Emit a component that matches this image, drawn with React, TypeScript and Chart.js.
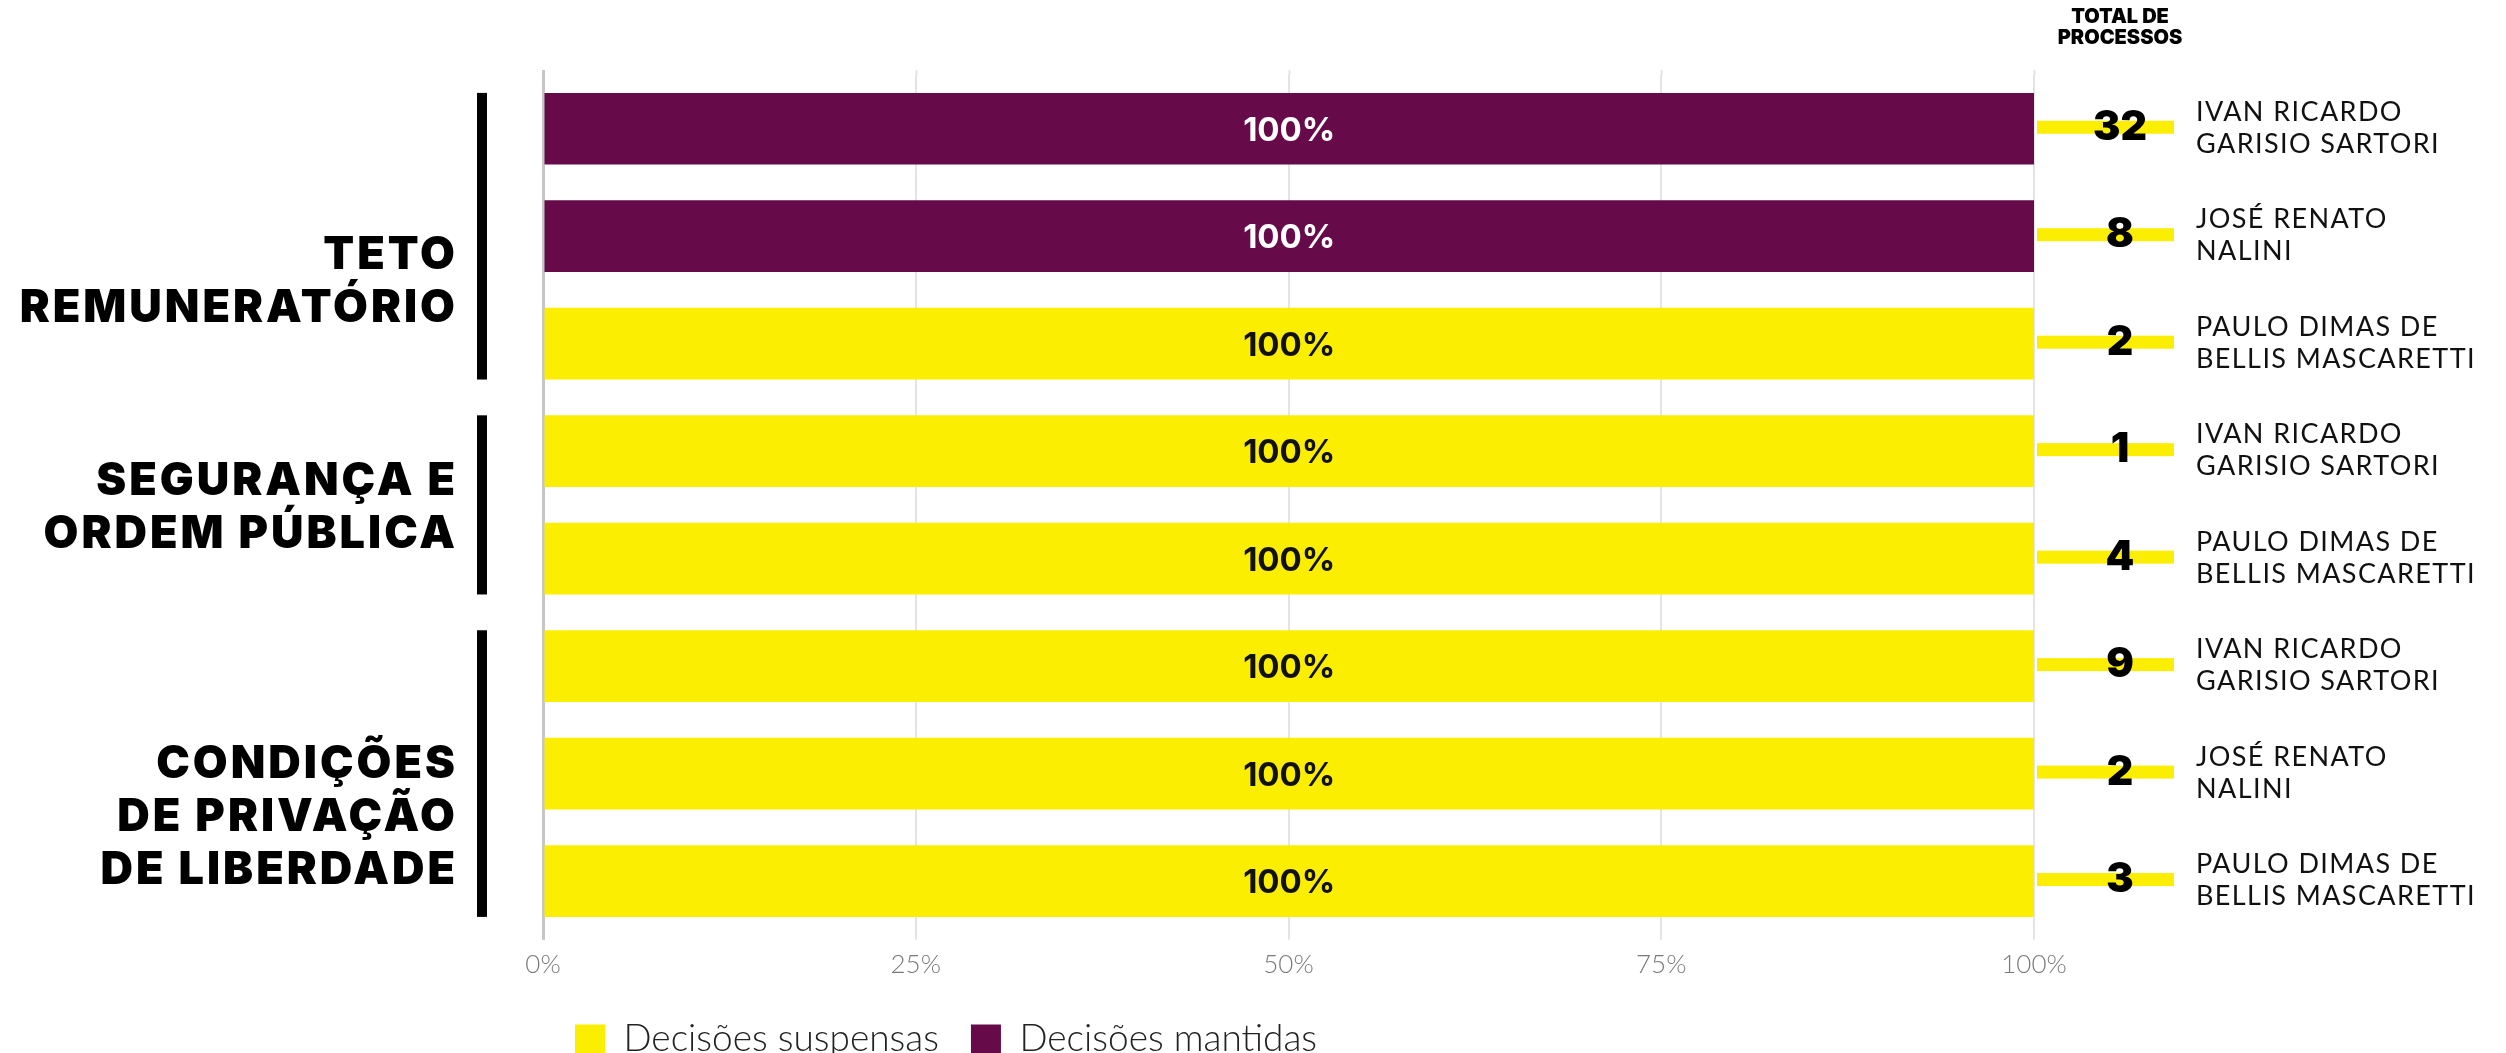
import React, { useEffect, useRef } from 'react';
import { Chart, registerables } from 'chart.js';

Chart.register(...registerables);

// ---------- data ----------
const JUDGES: string[][] = [
  ['IVAN RICARDO', 'GARISIO SARTORI'],
  ['JOSÉ RENATO', 'NALINI'],
  ['PAULO DIMAS DE', 'BELLIS MASCARETTI'],
  ['IVAN RICARDO', 'GARISIO SARTORI'],
  ['PAULO DIMAS DE', 'BELLIS MASCARETTI'],
  ['IVAN RICARDO', 'GARISIO SARTORI'],
  ['JOSÉ RENATO', 'NALINI'],
  ['PAULO DIMAS DE', 'BELLIS MASCARETTI'],
];
const TOTAL_PROCESSOS = [32, 8, 2, 1, 4, 9, 2, 3];
const DECISOES_SUSPENSAS = [0, 0, 100, 100, 100, 100, 100, 100];
const DECISOES_MANTIDAS = [100, 100, 0, 0, 0, 0, 0, 0];
const SERIES_NAMES = ['Decisões suspensas', 'Decisões mantidas'];
const GROUP_LABELS: string[][] = [
  ['TETO', 'REMUNERATÓRIO'],
  ['SEGURANÇA E', 'ORDEM PÚBLICA'],
  ['CONDIÇÕES', 'DE PRIVAÇÃO', 'DE LIBERDADE'],
];
const GROUP_SIZES = [3, 2, 3];
const X_TICKS = [0, 25, 50, 75, 100];
const HEADER_LINES = ['TOTAL DE', 'PROCESSOS'];

// ---------- style ----------
const YELLOW = '#FBEE00';
const PURPLE = '#660A4A';
const AXIS_COLOR = '#c6c6c6';
const GRID_COLOR = '#e4e4e4';
const FONT = 'Lato';
const HEAVY = 'Inter';
const GROUP_NUDGE = [43, 0, 41];

const annotations = {
  id: 'annotations',
  beforeDatasetsDraw(chart: any) {
    const { ctx, chartArea, scales } = chart;
    const xs = scales.x;
    ctx.save();
    xs.ticks.forEach((t: any, i: number) => {
      const px = Math.round(xs.getPixelForValue(t.value)) + 0.5;
      ctx.strokeStyle = i === 0 ? AXIS_COLOR : GRID_COLOR;
      ctx.lineWidth = i === 0 ? 3 : 2;
      ctx.beginPath();
      ctx.moveTo(px, chartArea.top - 5);
      ctx.lineTo(px, chartArea.top);
      ctx.stroke();
    });
    ctx.restore();
  },
  afterDatasetsDraw(chart: any) {
    const { ctx } = chart;
    ctx.save();
    ctx.textAlign = 'center';
    ctx.textBaseline = 'alphabetic';
    ctx.font = `700 33px ${HEAVY}`;
    chart.data.datasets.forEach((ds: any, di: number) => {
      const meta = chart.getDatasetMeta(di);
      ds.data.forEach((v: number, i: number) => {
        if (!v) return;
        const el: any = meta.data[i];
        ctx.fillStyle = di === 1 ? '#ffffff' : '#111111';
        ctx.fillText(`${v}%`, (el.x + el.base) / 2, el.y + 12);
      });
    });
    ctx.restore();
  },
  afterDraw(chart: any) {
    const { ctx, chartArea, scales } = chart;
    const ys = scales.y;
    const meta = chart.getDatasetMeta(0);
    const right = chartArea.right;
    const left = chartArea.left;
    ctx.save();

    // header
    ctx.fillStyle = '#000';
    ctx.textAlign = 'center';
    ctx.textBaseline = 'alphabetic';
    ctx.font = `900 20px ${HEAVY}`;
    HEADER_LINES.forEach((l, k) => {
      ctx.fillText(l, right + 86, chartArea.top - 52 + k * 21);
    });

    // right side: totals + names
    TOTAL_PROCESSOS.forEach((tot, i) => {
      const y = ys.getPixelForValue(i);
      ctx.fillStyle = YELLOW;
      ctx.fillRect(right + 3, y - 8, 137, 13);
      ctx.fillStyle = '#000';
      ctx.textAlign = 'center';
      ctx.font = `900 41px ${HEAVY}`;
      ctx.fillText(String(tot), right + 86, y + 11);
      ctx.textAlign = 'left';
      ctx.fillStyle = '#111';
      ctx.font = `400 27px ${FONT}`;
      (ctx as any).letterSpacing = '1.4px';
      JUDGES[i].forEach((line, k) => {
        ctx.fillText(line, right + 162, y - 8 + k * 32);
      });
      (ctx as any).letterSpacing = '0px';
    });

    // left side: group bars and labels
    let start = 0;
    GROUP_SIZES.forEach((n, g) => {
      const first: any = meta.data[start];
      const last: any = meta.data[start + n - 1];
      const top = first.y - first.height / 2;
      const bottom = last.y + last.height / 2;
      ctx.fillStyle = '#000';
      ctx.fillRect(left - 66, top, 10, bottom - top);
      const center = (first.y + last.y) / 2 + GROUP_NUDGE[g];
      const lines = GROUP_LABELS[g];
      const spacing = 53;
      ctx.font = `900 45px ${HEAVY}`;
      ctx.textAlign = 'right';
      (ctx as any).letterSpacing = '3px';
      lines.forEach((l, k) => {
        const base = center - ((lines.length - 1) * spacing) / 2 + 16.5 + k * spacing;
        ctx.fillText(l, left - 85, base);
      });
      (ctx as any).letterSpacing = '0px';
      start += n;
    });
    ctx.restore();
  },
};

export default function App() {
  const ref = useRef<HTMLCanvasElement>(null);
  useEffect(() => {
    const canvas = ref.current!;
    const chart = new Chart(canvas, {
      type: 'bar',
      data: {
        labels: JUDGES.map((j) => j.join(' ')),
        datasets: [
          {
            label: SERIES_NAMES[0],
            data: DECISOES_SUSPENSAS,
            backgroundColor: YELLOW,
            borderWidth: 0,
            barPercentage: 0.667,
            categoryPercentage: 1,
          },
          {
            label: SERIES_NAMES[1],
            data: DECISOES_MANTIDAS,
            backgroundColor: PURPLE,
            borderWidth: 0,
            barPercentage: 0.667,
            categoryPercentage: 1,
          },
        ],
      },
      options: {
        indexAxis: 'y',
        responsive: false,
        maintainAspectRatio: false,
        animation: false,
        layout: { padding: { left: 543, right: 472, top: 75, bottom: 0 } },
        scales: {
          x: {
            stacked: true,
            min: 0,
            max: 100,
            afterBuildTicks: (axis: any) => {
              axis.ticks = X_TICKS.map((v) => ({ value: v }));
            },
            grid: {
              color: (c: any) => (c.index === 0 ? AXIS_COLOR : GRID_COLOR),
              lineWidth: (c: any) => (c.index === 0 ? 3 : 2),
              tickLength: 5,
            },
            border: { display: false },
            ticks: {
              callback: (v: any) => `${v}%`,
              color: '#7a7a7a',
              padding: 9,
              font: { family: FONT, size: 26, weight: '300' as any },
            },
          },
          y: { stacked: true, display: false },
        },
        plugins: {
          legend: {
            position: 'bottom',
            align: 'start',
            labels: {
              boxWidth: 30,
              boxHeight: 30,
              padding: 32,
              color: '#222',
              font: { family: FONT, size: 37, weight: '300' as any },
            },
          },
          tooltip: { enabled: false },
        },
      },
      plugins: [annotations],
    });
    return () => chart.destroy();
  }, []);

  return (
    <div
      style={{
        position: 'fixed',
        left: 0,
        top: 0,
        width: 2506,
        height: 1053,
        overflow: 'hidden',
        background: '#fff',
      }}
    >
      <canvas ref={ref} width={2506} height={1068} style={{ display: 'block', width: 2506, height: 1068 }} />
    </div>
  );
}
